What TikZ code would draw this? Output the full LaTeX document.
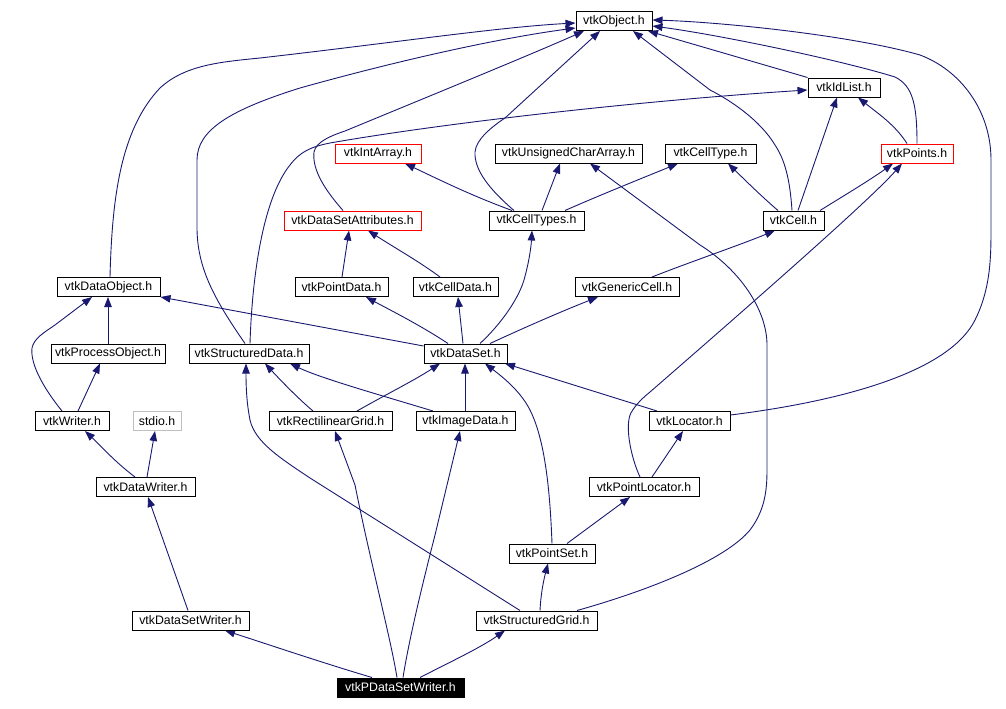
\documentclass[tikz,border=0pt]{standalone}
\usepackage{fontspec}
\setmainfont{Liberation Sans}
\usetikzlibrary{arrows.meta,backgrounds}
\definecolor{edgeblue}{RGB}{25,25,112}
\definecolor{boxgray}{RGB}{191,191,191}
\tikzset{
  box/.style={draw=black, line width=1pt, inner sep=0pt, minimum height=19pt,
    font=\fontsize{12.3}{14}\selectfont, fill=white},
  redbox/.style={box, draw=red},
  graybox/.style={box, draw=boxgray},
  focusbox/.style={box, fill=black, text=white},
  dep/.style={draw=edgeblue, line width=0.9pt, -{Triangle[length=10pt,width=7.5pt]}}
}
\begin{document}
\begin{tikzpicture}[x=1pt,y=-1pt]
\useasboundingbox (0,0) rectangle (1006,709);
% nodes
\node[box, minimum width=76pt] (obj) at (614,21) {vtkObject.h};
\node[box, minimum width=72pt] (idlist) at (844,87.5) {vtkIdList.h};
\node[redbox, minimum width=86pt] (intarr) at (378,153.5) {vtkIntArray.h};
\node[box, minimum width=147pt] (uchar) at (568.5,153.5) {vtkUnsignedCharArray.h};
\node[box, minimum width=91pt] (celltype) at (710.5,153.5) {vtkCellType.h};
\node[redbox, minimum width=72pt] (points) at (917,153.5) {vtkPoints.h};
\node[redbox, minimum width=137pt] (dsattr) at (352.5,220.5) {vtkDataSetAttributes.h};
\node[box, minimum width=95pt] (celltypes) at (536.5,220.5) {vtkCellTypes.h};
\node[box, minimum width=61pt] (cell) at (793.5,220.5) {vtkCell.h};
\node[box, minimum width=103pt] (dataobj) at (108.5,287) {vtkDataObject.h};
\node[box, minimum width=93pt] (pointdata) at (341.5,287) {vtkPointData.h};
\node[box, minimum width=85pt] (celldata) at (455.5,287) {vtkCellData.h};
\node[box, minimum width=104pt] (genericcell) at (627,287) {vtkGenericCell.h};
\node[box, minimum width=114pt] (procobj) at (108,353.5) {vtkProcessObject.h};
\node[box, minimum width=120pt] (structdata) at (249,353.5) {vtkStructuredData.h};
\node[box, minimum width=83pt] (dataset) at (465.5,353.5) {vtkDataSet.h};
\node[box, minimum width=74pt] (writer) at (72,421) {vtkWriter.h};
\node[graybox, minimum width=48pt] (stdio) at (157,421) {stdio.h};
\node[box, minimum width=123pt] (rectgrid) at (330.5,421) {vtkRectilinearGrid.h};
\node[box, minimum width=99pt] (imagedata) at (465.5,421) {vtkImageData.h};
\node[box, minimum width=81pt] (locator) at (689.5,421) {vtkLocator.h};
\node[box, minimum width=99pt] (datawriter) at (145.5,487) {vtkDataWriter.h};
\node[box, minimum width=110pt] (pointlocator) at (644,487) {vtkPointLocator.h};
\node[box, minimum width=86pt] (pointset) at (552,553.5) {vtkPointSet.h};
\node[box, minimum width=117pt] (dswriter) at (190.5,620.5) {vtkDataSetWriter.h};
\node[box, minimum width=121pt] (structgrid) at (536.5,620.5) {vtkStructuredGrid.h};
\node[focusbox, minimum width=127pt] (pdswriter) at (400.5,687.5) {vtkPDataSetWriter.h};
\begin{pgfonlayer}{background}
% edges to vtkObject
\draw[dep] (idlist.north west) -- (obj.south -| 648,0);
\draw[dep] (points.north -| 917,0) .. controls (917,105) and (913,86) .. (895,77)
  .. controls (840,60) and (720,35) .. (obj.east |- 0,26);
\draw[dep] (locator.east |- 0,415) .. controls (850,400) and (950,370) .. (975,320)
  .. controls (990,290) and (991,260) .. (991,230) -- (991,160)
  .. controls (991,110) and (960,70) .. (920,55) .. controls (850,35) and (720,22) .. (obj.east |- 0,20);
\draw[dep] (dataobj.north -| 110,0) .. controls (112,200) and (120,130) .. (160,88)
  .. controls (185,65) and (220,62) .. (260,58) .. controls (400,42) and (500,27) .. (obj.west |- 0,23);
\draw[dep] (structdata.north -| 245,0) .. controls (215,300) and (198,270) .. (197,230) -- (197,160)
  .. controls (197,130) and (230,110) .. (300,88) .. controls (400,60) and (500,38) .. (obj.west |- 0,28);
\draw[dep] (dsattr.north -| 343,0) .. controls (325,190) and (312,170) .. (314,152)
  .. controls (316,142) and (330,136) .. (345,131) .. controls (420,100) and (530,55) .. (obj.south -| 584,0);
\draw[dep] (celltypes.north -| 514,0) .. controls (490,190) and (474,170) .. (475,152)
  .. controls (476,140) and (490,128) .. (505,118) -- (obj.south -| 600,0);
\draw[dep] (cell.north -| 792,0) .. controls (790,180) and (785,160) .. (775,145)
  .. controls (760,120) and (730,100) .. (710,90) -- (obj.south -| 633,0);
% vtkIdList
\draw[dep] (structdata.north -| 250,0) .. controls (252,280) and (262,200) .. (290,165)
  .. controls (300,152) and (310,147) .. (330,143) .. controls (450,122) and (650,100) .. (idlist.west |- 0,90);
\draw[dep] (cell.north -| 798,0) -- (idlist.south -| 837,0);
\draw[dep] (points.north -| 907,0) .. controls (895,125) and (880,115) .. (idlist.south -| 858,0);
% level 2
\draw[dep] (celltypes.north -| 512,0) .. controls (470,195) and (440,180) .. (intarr.south -| 405,0);
\draw[dep] (celltypes.north -| 542,0) -- (uchar.south -| 560,0);
\draw[dep] (celltypes.north -| 565,0) .. controls (600,195) and (650,175) .. (celltype.south -| 678,0);
\draw[dep] (cell.north -| 778,0) .. controls (760,195) and (745,180) .. (celltype.south -| 728,0);
\draw[dep] (cell.north -| 820,0) .. controls (845,195) and (870,180) .. (points.south -| 893,0);
\draw[dep] (genericcell.north -| 652,0) .. controls (690,262) and (740,245) .. (cell.south -| 775,0);
\draw[dep] (pointdata.north -| 342,0) -- (dsattr.south -| 349,0);
\draw[dep] (celldata.north -| 440,0) .. controls (420,262) and (395,248) .. (dsattr.south -| 368,0);
% vtkDataSet
\draw[dep] (dataset.north -| 448,0) .. controls (420,325) and (390,310) .. (pointdata.south -| 366,0);
\draw[dep] (dataset.north -| 463,0) -- (celldata.south -| 458,0);
\draw[dep] (dataset.north -| 480,0) .. controls (500,325) and (518,300) .. (524,280)
  .. controls (529,262) and (531,248) .. (celltypes.south -| 532,0);
\draw[dep] (dataset.north -| 490,0) .. controls (530,325) and (565,310) .. (genericcell.south -| 598,0);
\draw[dep] (dataset.west |- 0,346) -- (dataobj.south east);
% writers
\draw[dep] (procobj.north -| 108,0) -- (dataobj.south -| 108,0);
\draw[dep] (writer.north -| 62,0) .. controls (45,390) and (30,365) .. (32,348)
  .. controls (34,338) and (45,332) .. (55,325) -- (dataobj.south -| 92,0);
\draw[dep] (writer.north -| 78,0) -- (procobj.south -| 100,0);
\draw[dep] (datawriter.north -| 135,0) .. controls (115,462) and (100,445) .. (writer.south -| 85,0);
\draw[dep] (datawriter.north -| 147,0) -- (stdio.south -| 155,0);
\draw[dep] (dswriter.north -| 188,0) -- (datawriter.south -| 148,0);
\draw[dep] (pdswriter.north -| 372,0) .. controls (320,662) and (270,645) .. (dswriter.south -| 225,0);
\draw[dep] (pdswriter.north -| 397,0) .. controls (391,640) and (370,560) .. (355,485) -- (rectgrid.south -| 335,0);
\draw[dep] (pdswriter.north -| 403,0) .. controls (409,640) and (421,590) .. (435,535) -- (imagedata.south -| 460,0);
\draw[dep] (pdswriter.north -| 420,0) .. controls (450,662) and (480,648) .. (structgrid.south -| 505,0);
% vtkStructuredGrid
\draw[dep] (structgrid.north -| 520,0) -- (310,478) .. controls (280,458) and (255,442) .. (250,420)
  .. controls (246,400) and (246,380) .. (structdata.south -| 246,0);
\draw[dep] (structgrid.north -| 540,0) .. controls (541,590) and (545,575) .. (pointset.south -| 548,0);
\draw[dep] (structgrid.north -| 577,0) .. controls (650,590) and (725,560) .. (750,530)
  .. controls (765,510) and (767,490) .. (767,470) -- (767,345)
  .. controls (767,310) and (740,270) .. (700,245) -- (uchar.south -| 590,0);
% vtkPointSet and locators
\draw[dep] (pointset.north -| 552,0) .. controls (550,490) and (545,440) .. (530,410)
  .. controls (520,390) and (500,375) .. (dataset.south -| 485,0);
\draw[dep] (pointset.north -| 567,0) -- (pointlocator.south -| 630,0);
\draw[dep] (pointlocator.north -| 652,0) -- (locator.south -| 683,0);
\draw[dep] (pointlocator.north -| 640,0) .. controls (632,460) and (625,430) .. (630,415)
  .. controls (633,408) and (640,400) .. (650,392) .. controls (750,305) and (870,200) .. (points.south -| 902,0);
\draw[dep] (locator.north -| 657,0) -- (dataset.south -| 505,0);
% grids
\draw[dep] (rectgrid.north -| 313,0) .. controls (300,400) and (285,385) .. (structdata.south -| 265,0);
\draw[dep] (rectgrid.north -| 357,0) .. controls (385,395) and (415,380) .. (dataset.south -| 440,0);
\draw[dep] (imagedata.north -| 433,0) .. controls (380,395) and (320,378) .. (structdata.south -| 290,0);
\draw[dep] (imagedata.north -| 465,0) -- (dataset.south -| 465,0);
\end{pgfonlayer}
\end{tikzpicture}
\end{document}
